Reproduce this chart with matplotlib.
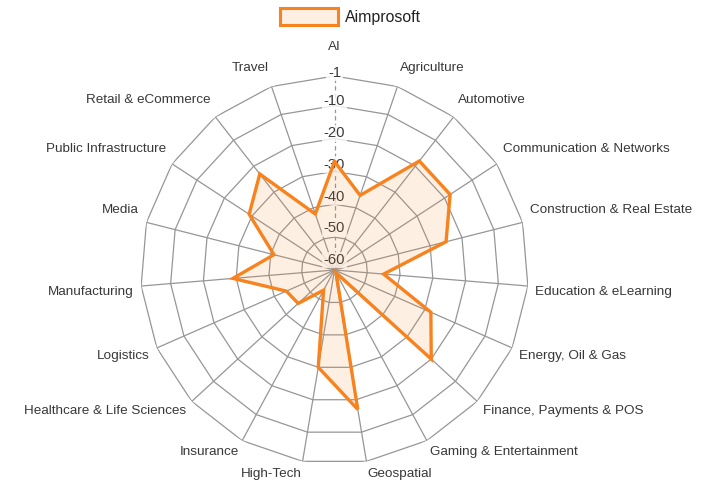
import numpy as np
import matplotlib
matplotlib.use('Agg')
import matplotlib.pyplot as plt
from matplotlib.patches import Patch

categories = ["AI", "Agriculture", "Automotive", "Communication & Networks",
              "Construction & Real Estate", "Education & eLearning",
              "Energy, Oil & Gas", "Finance, Payments & POS",
              "Gaming & Entertainment", "Geospatial", "High-Tech", "Insurance",
              "Healthcare & Life Sciences", "Logistics", "Manufacturing", "Media",
              "Public Infrastructure", "Retail & eCommerce", "Travel"]
values = [-27, -36, -18, -18, -25, -45, -28, -20, -59, -17, -30, -53,
          -45, -44, -29, -41, -29, -23, -42]
series_name = "Aimprosoft"
tick_values = [-60, -50, -40, -30, -20, -10, -1]
r_min, r_max = -60, -1

plt.rcParams['font.family'] = ['Liberation Sans', 'DejaVu Sans']

W, H, DPI = 711, 483, 100
fig = plt.figure(figsize=(W / DPI, H / DPI), dpi=DPI)
fig.patch.set_facecolor('white')

cx, cy, R = 334.5, 270.0, 194.0
ax = fig.add_axes([(cx - R) / W, (H - cy - R) / H, 2 * R / W, 2 * R / H],
                  projection='polar')
ax.set_theta_zero_location('N')
ax.set_theta_direction(-1)
ax.set_ylim(r_min, r_max)
ax.axis('off')

n = len(categories)
theta = np.arange(n) * 2 * np.pi / n
theta_c = np.append(theta, theta[0])

grid_col = '#969696'
for v in tick_values[1:]:
    ax.plot(theta_c, [v] * (n + 1), color=grid_col, lw=0.9, zorder=1)
for i, t in enumerate(theta):
    ls = (0, (3.5, 2.5)) if i == 0 else '-'
    ax.plot([t, t], [r_min, r_max], color=grid_col, lw=0.9, zorder=1, ls=ls)

px2pt = 72.0 / DPI
units_per_px = (r_max - r_min) / R
text_col = '#383838'

# radial tick labels
for v in tick_values:
    off_px = 10 - 0.118 * (v - r_min)
    ax.annotate(str(v), xy=(0, v), xytext=(0, off_px * px2pt),
                textcoords='offset points', ha='center', va='center',
                fontsize=10.6, color=text_col, zorder=2, annotation_clip=False,
                bbox=dict(boxstyle='square,pad=0.1', fc='white', ec='none', alpha=0.8))

# point labels
r_lab = r_max + 7.5 * units_per_px
for i, (t, lab) in enumerate(zip(theta, categories)):
    if i == 0:
        ha, dy = 'center', 21.5
    else:
        ha = 'left' if t < np.pi else 'right'
        dy = 11 if np.cos(t) > 0 else -5
    ax.annotate(lab, xy=(t, r_lab), xytext=(0, dy * px2pt),
                textcoords='offset points', ha=ha, va='center',
                fontsize=9.7, color=text_col, annotation_clip=False, zorder=5)

line_col = '#F7821E'
fill_col = (247 / 255, 130 / 255, 30 / 255, 0.12)
vals_c = np.append(values, values[0])
ax.fill(theta_c, vals_c, color=fill_col, zorder=3, lw=0)
ax.plot(theta_c, vals_c, color=line_col, lw=2.4, zorder=4,
        solid_joinstyle='miter')

handle = Patch(facecolor=fill_col, edgecolor=line_col, linewidth=2.2,
               joinstyle='miter')
fig.legend([handle], [series_name], loc='center',
           bbox_to_anchor=(350.5 / W, 1 - 16.5 / H), frameon=False,
           fontsize=11.4, handlelength=3.65, handleheight=1.26,
           handletextpad=0.44, borderpad=0.1, borderaxespad=0,
           labelcolor='#222222')

fig.savefig('out.png', dpi=DPI)
